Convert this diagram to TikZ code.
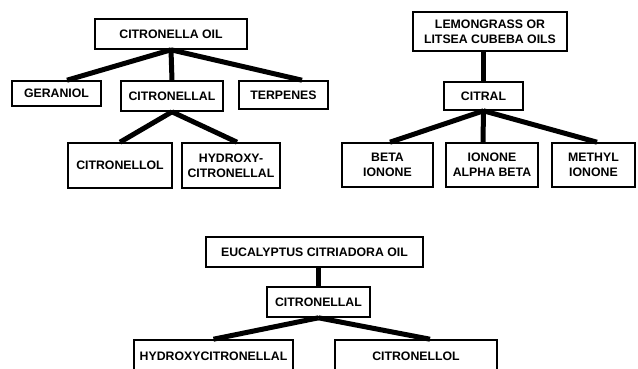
\documentclass[tikz,border=0pt]{standalone}
\usepackage{fontspec}
\setmainfont{Liberation Sans}

\tikzset{
  box/.style={draw, line width=1.6pt, align=center, inner sep=0pt,
    font=\bfseries\fontsize{12.3}{15}\selectfont},
  stem/.style={line width=5pt},
}

\begin{document}
\begin{tikzpicture}[x=1pt,y=-1pt]
  \clip (0,0) rectangle (638,368);
  % citronella oil
  \node [box, minimum width=152pt, minimum height=30pt] (oil) at (171,34) {CITRONELLA OIL};
  \node [box, minimum width=89pt, minimum height=25pt] (ger) at (56.5,93.5) {GERANIOL};
  \node [box, minimum width=102pt, minimum height=30pt] (cal) at (172,96) {CITRONELLAL};
  \node [box, minimum width=89pt, minimum height=28pt] (ter) at (283.5,95) {TERPENES};
  \node [box, minimum width=104pt, minimum height=45pt] (col) at (120,165.5) {CITRONELLOL};
  \node [box, minimum width=98pt, minimum height=45pt] (hyd) at (231,165.5) {HYDROXY-\\CITRONELLAL};
  % lemongrass
  \node [box, minimum width=154pt, minimum height=39pt] (lem) at (490,31.5) {LEMONGRASS OR\\LITSEA CUBEBA OILS};
  \node [box, minimum width=79pt, minimum height=28pt] (ctr) at (483.5,96) {CITRAL};
  \node [box, minimum width=91pt, minimum height=44pt] (bet) at (387.5,165) {BETA\\IONONE};
  \node [box, minimum width=92pt, minimum height=44pt] (ion) at (492,165) {IONONE\\ALPHA BETA};
  \node [box, minimum width=83pt, minimum height=44pt] (met) at (593.5,165) {METHYL\\IONONE};
  % eucalyptus
  \node [box, minimum width=217pt, minimum height=30pt] (euc) at (314.5,252) {EUCALYPTUS CITRIADORA OIL};
  \node [box, minimum width=103pt, minimum height=30pt] (cl2) at (318.5,302) {CITRONELLAL};
  \node [box, minimum width=159pt, minimum height=32pt] (hy2) at (213.5,356) {HYDROXYCITRONELLAL};
  \node [box, minimum width=162pt, minimum height=32pt] (co2) at (416,356) {CITRONELLOL};

  \draw [stem] (oil.south) -- ([xshift=10.5pt]ger.north);
  \draw [stem] (oil.south) -- (cal.north);
  \draw [stem] (oil.south) -- ([xshift=18.5pt]ter.north);
  \draw [stem] (cal.south) -- (col.north);
  \draw [stem] (cal.south) -- ([xshift=6pt]hyd.north);

  \draw [stem] (ctr.north) -- (ctr.north |- lem.south);
  \draw [stem] (ctr.south) -- ([xshift=2.5pt]bet.north);
  \draw [stem] (ctr.south) -- ([xshift=-9pt]ion.north);
  \draw [stem] (ctr.south) -- ([xshift=3.5pt]met.north);

  \draw [stem] (cl2.north) -- (cl2.north |- euc.south);
  \draw [stem] (cl2.south) -- (hy2.north);
  \draw [stem] (cl2.south) -- ([xshift=14pt]co2.north);
\end{tikzpicture}
\end{document}
